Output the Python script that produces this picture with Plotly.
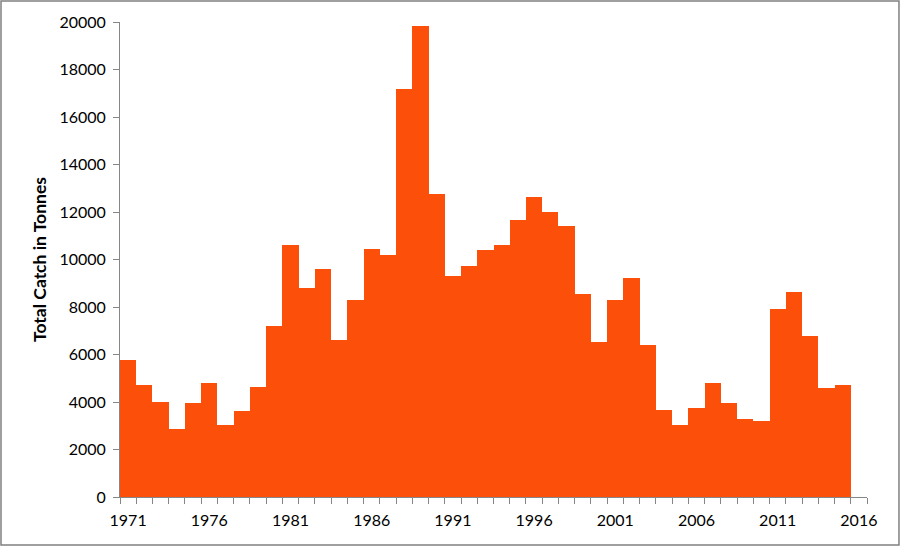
import plotly.graph_objects as go

# yearly catch
years = list(range(1971, 2017))
catch = [5780, 4720, 4015, 2870, 3970, 4810, 3045, 3630, 4650, 7220,
         10590, 8780, 9620, 6620, 8310, 10460, 10200, 17160, 19820, 12740,
         9320, 9740, 10410, 10630, 11680, 12650, 12010, 11430, 8560, 6540,
         8310, 9240, 6410, 3680, 3045, 3750, 4810, 3970, 3290, 3210,
         7930, 8650, 6790, 4600, 4720, None]
label_years = [1971, 1976, 1981, 1986, 1991, 1996, 2001, 2006, 2011, 2016]
y_ticks = list(range(0, 20001, 2000))

FONT = 'Lato'
GREY = '#868686'

bars = go.Bar(x=years, y=catch, marker=dict(color='#FC500A', line_width=0),
              hoverinfo='x+y')

fig = go.Figure(data=[bars])
fig.update_layout(
    width=901, height=547,
    margin=dict(l=120, r=34, t=22, b=50),
    plot_bgcolor='white', paper_bgcolor='white',
    bargap=0, showlegend=False,
    font=dict(family=FONT, size=16, color='#000000'),
    xaxis=dict(range=[1970.5, 2016.5], tickmode='array', tickvals=label_years,
               ticks='', showgrid=False, zeroline=False,
               showline=True, linecolor=GREY, linewidth=1,
               tickfont=dict(size=16), ticklabelstandoff=9,
               minor=dict(tickmode='linear', tick0=1970.5, dtick=1,
                          ticks='outside', ticklen=6, tickcolor=GREY,
                          showgrid=False)),
    yaxis=dict(range=[0, 20000], tickmode='array', tickvals=y_ticks,
               ticktext=[str(v) for v in y_ticks],
               ticks='outside', ticklen=6, tickcolor=GREY,
               showgrid=False, zeroline=False,
               showline=True, linecolor=GREY, linewidth=1,
               tickfont=dict(size=16), ticklabelstandoff=4,
               title=dict(text='<b>Total Catch in Tonnes</b>',
                          font=dict(size=17.5), standoff=8)),
    shapes=[dict(type='rect', xref='paper', yref='paper',
                 x0=-0.1593, x1=1.0428, y0=-0.101, y1=1.0442,
                 line=dict(color='#808080', width=1.5))],
)

fig.write_html("out.html", config={'displayModeBar': False},
               post_script="document.body.style.margin='0';")
